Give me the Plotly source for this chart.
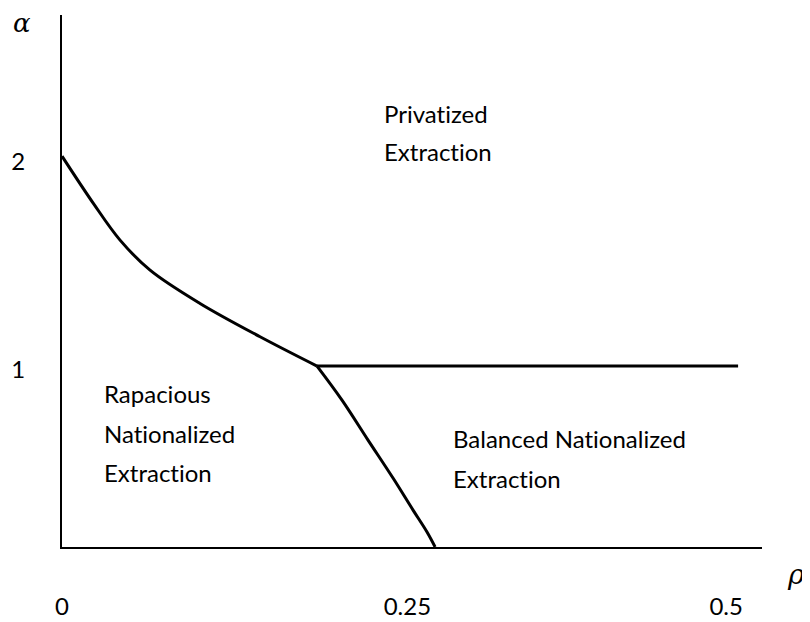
import plotly.graph_objects as go

# ---- data (rho, alpha) ----
upper_rho = [0.0, 0.0236, 0.0437, 0.0663, 0.1039, 0.1491, 0.1920]
upper_alpha = [2.160, 1.899, 1.696, 1.530, 1.346, 1.162, 1.0]

lower_rho = [0.1920, 0.2108, 0.2304, 0.2492, 0.2643, 0.2748, 0.2809]
lower_alpha = [1.0, 0.812, 0.591, 0.381, 0.204, 0.083, 0.0]

flat_rho = [0.1920, 0.509]
flat_alpha = [1.0, 1.0]

x_tick_vals = [0.0, 0.26, 0.5]
x_tick_text = ["0", "0.25", "0.5"]
y_tick_vals = [0.98, 2.13]
y_tick_text = ["1", "2"]

ZW = "\u200c"  # keeps the font from joining "ti" into a ligature
region_labels = [
    ("Privat" + ZW + "ized", 0.241, 2.397),
    ("Extrac" + ZW + "t" + ZW + "ion", 0.241, 2.187),
    ("Rapacious", 0.030, 0.851),
    ("Nat" + ZW + "ionalized", 0.030, 0.630),
    ("Extrac" + ZW + "t" + ZW + "ion", 0.030, 0.414),
    ("Balanced Nat" + ZW + "ionalized", 0.2925, 0.602),
    ("Extrac" + ZW + "t" + ZW + "ion", 0.2925, 0.381),
]

FONT = "Lato"
line_style = dict(color="black", width=3)

fig = go.Figure()
for xs, ys in [(upper_rho, upper_alpha), (lower_rho, lower_alpha), (flat_rho, flat_alpha)]:
    fig.add_trace(go.Scatter(x=xs, y=ys, mode="lines", line=line_style,
                             line_shape="spline", hoverinfo="skip", showlegend=False))

for txt, x, y in region_labels:
    fig.add_annotation(x=x, y=y, text=txt, showarrow=False, xanchor="left", yanchor="middle",
                       font=dict(family=FONT, size=24, color="black"))

fig.add_annotation(xref="paper", yref="paper", x=0, y=1, text="α", showarrow=False,
                   xshift=-40, yshift=-8, xanchor="center", yanchor="middle",
                   font=dict(family="DejaVu Serif", size=26, color="black", style="italic"))
fig.add_annotation(xref="paper", yref="paper", x=1, y=0, text="ρ", showarrow=False,
                   xshift=34, yshift=-27, xanchor="center", yanchor="middle",
                   font=dict(family="DejaVu Serif", size=28, color="black", style="italic"))

fig.update_xaxes(range=[0, 0.527], showline=True, linecolor="black", linewidth=2,
                 showgrid=False, zeroline=False, ticks="", automargin=False,
                 tickvals=x_tick_vals, ticktext=x_tick_text, ticklabelstandoff=37,
                 tickfont=dict(family=FONT, size=24, color="black"))
fig.update_yaxes(range=[0, 2.94], showline=True, linecolor="black", linewidth=2,
                 showgrid=False, zeroline=False, ticks="", automargin=False,
                 tickvals=y_tick_vals, ticktext=y_tick_text, ticklabelstandoff=30,
                 tickfont=dict(family=FONT, size=24, color="black"))

# the page body adds an 8px margin, so the figure is sized to fit the window
fig.update_layout(width=802, height=614, autosize=False,
                  margin=dict(l=54, r=48, t=7, b=75),
                  plot_bgcolor="white", paper_bgcolor="white")

fig.write_html("out.html")
